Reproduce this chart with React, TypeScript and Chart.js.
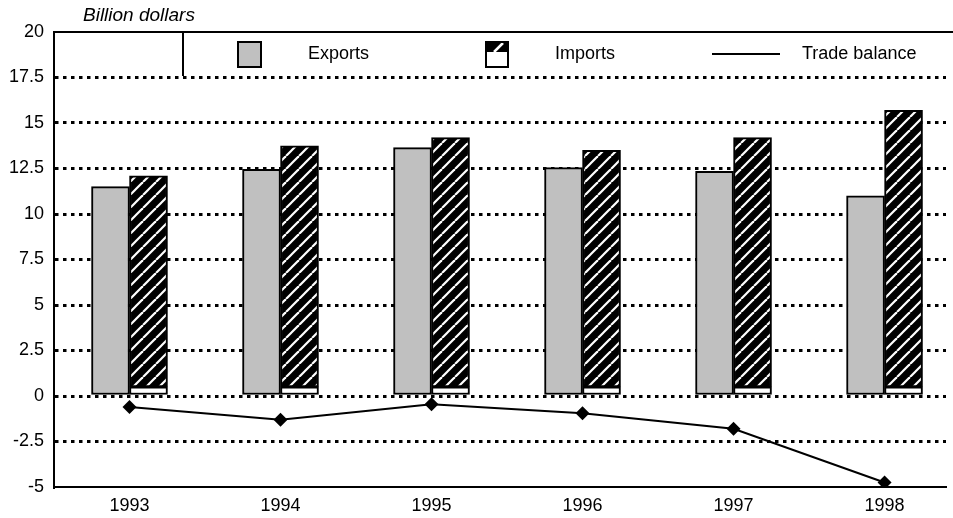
import React, { useEffect, useRef } from 'react';
import { Chart, registerables } from 'chart.js';

Chart.register(...registerables);

const YEARS = ['1993', '1994', '1995', '1996', '1997', '1998'];
const EXPORTS = [11.5, 12.45, 13.65, 12.55, 12.35, 11.0];
const IMPORTS = [12.1, 13.75, 14.2, 13.5, 14.2, 15.7];
const TRADE_BALANCE = [-0.6, -1.3, -0.45, -0.95, -1.8, -4.75];
const IMPORTS_BASE = 0.5;
const Y_MIN = -5;
const Y_MAX = 20;
const Y_STEP = 2.5;
const TITLE = 'Billion dollars';
const LEGEND_LABELS = ['Exports', 'Imports', 'Trade balance'];

const FONT = "'Liberation Sans', Arial, sans-serif";
const W = 953;
const H = 518;

function makeHatch(ctx: CanvasRenderingContext2D) {
  const s = 13;
  const c = document.createElement('canvas');
  c.width = s;
  c.height = s;
  const g = c.getContext('2d')!;
  g.fillStyle = '#000';
  g.fillRect(0, 0, s, s);
  g.strokeStyle = '#fff';
  g.lineWidth = 2.2;
  for (const k of [-s, 0, s]) {
    g.beginPath();
    g.moveTo(k, s);
    g.lineTo(k + s, 0);
    g.stroke();
  }
  return ctx.createPattern(c, 'repeat')!;
}

const decorPlugin = {
  id: 'decor',
  afterDraw(chart: any) {
    const ctx: CanvasRenderingContext2D = chart.ctx;
    const area = chart.chartArea;
    ctx.save();
    ctx.fillStyle = '#000';
    ctx.font = `italic 19px ${FONT}`;
    ctx.textAlign = 'left';
    ctx.textBaseline = 'alphabetic';
    ctx.fillText(TITLE, 83, 21);

    const bx = 183;
    const by = area.top;
    const bh = 44;
    ctx.fillStyle = '#fff';
    ctx.fillRect(bx, by, W - bx, bh);
    ctx.strokeStyle = '#000';
    ctx.lineWidth = 2;
    ctx.beginPath();
    ctx.moveTo(bx, by + bh);
    ctx.lineTo(bx, by);
    ctx.stroke();

    ctx.beginPath();
    ctx.moveTo(area.left - 1, area.top);
    ctx.lineTo(W, area.top);
    ctx.stroke();

    const cy = by + 22;
    ctx.font = `18px ${FONT}`;
    ctx.textBaseline = 'middle';

    ctx.fillStyle = '#c0c0c0';
    ctx.fillRect(238, cy - 12, 23, 25);
    ctx.strokeStyle = '#000';
    ctx.lineWidth = 2;
    ctx.strokeRect(238, cy - 12, 23, 25);
    ctx.fillStyle = '#000';
    ctx.fillText(LEGEND_LABELS[0], 308, cy);

    const ix = 486;
    const iy = cy - 12;
    ctx.fillStyle = '#fff';
    ctx.fillRect(ix, iy, 22, 25);
    ctx.fillStyle = '#000';
    ctx.fillRect(ix, iy, 22, 10);
    ctx.strokeStyle = '#fff';
    ctx.lineWidth = 2.5;
    ctx.beginPath();
    ctx.moveTo(ix + 8, iy + 10);
    ctx.lineTo(ix + 17, iy + 1);
    ctx.stroke();
    ctx.strokeStyle = '#000';
    ctx.lineWidth = 2;
    ctx.strokeRect(ix, iy, 22, 25);
    ctx.fillStyle = '#000';
    ctx.fillText(LEGEND_LABELS[1], 555, cy);

    ctx.beginPath();
    ctx.moveTo(712, cy);
    ctx.lineTo(780, cy);
    ctx.lineWidth = 2;
    ctx.strokeStyle = '#000';
    ctx.stroke();
    ctx.fillText(LEGEND_LABELS[2], 802, cy);
    ctx.restore();
  },
};

export default function App() {
  const ref = useRef<HTMLCanvasElement>(null);

  useEffect(() => {
    document.body.style.margin = '0';
    const canvas = ref.current!;
    const ctx = canvas.getContext('2d')!;
    const hatch = makeHatch(ctx);

    const chart = new Chart(ctx, {
      type: 'bar',
      data: {
        datasets: [
          {
            type: 'line',
            label: LEGEND_LABELS[2],
            data: TRADE_BALANCE.map((v, i) => ({ x: i, y: v })),
            borderColor: '#000',
            borderWidth: 2,
            backgroundColor: '#000',
            pointStyle: 'rectRot',
            pointRadius: 7,
            pointBackgroundColor: '#000',
            pointBorderColor: '#000',
            pointBorderWidth: 0,
            stack: 'tb',
            order: 0,
            tension: 0,
          } as any,
          {
            label: LEGEND_LABELS[0],
            data: EXPORTS.map((v, i) => ({ x: i, y: v })),
            backgroundColor: '#c0c0c0',
            borderColor: '#000',
            borderWidth: 2,
            borderSkipped: false,
            stack: 'exp',
            barThickness: 38,
            order: 1,
          },
          {
            label: 'imports-base',
            data: IMPORTS.map((_, i) => ({ x: i, y: IMPORTS_BASE })),
            backgroundColor: '#fff',
            borderColor: '#000',
            borderWidth: 2,
            borderSkipped: false,
            stack: 'imp',
            barThickness: 38,
            order: 2,
          },
          {
            label: LEGEND_LABELS[1],
            data: IMPORTS.map((v, i) => ({ x: i, y: v - IMPORTS_BASE })),
            backgroundColor: hatch,
            borderColor: '#000',
            borderWidth: 2,
            borderSkipped: false,
            stack: 'imp',
            barThickness: 38,
            order: 2,
          },
        ],
      },
      options: {
        animation: false,
        responsive: false,
        maintainAspectRatio: false,
        layout: { padding: { top: 32, right: 0, left: 0, bottom: 0 } },
        plugins: {
          legend: { display: false },
          tooltip: { enabled: false },
        },
        scales: {
          x: {
            type: 'linear',
            offset: false,
            min: -0.5,
            max: 5.407,
            afterBuildTicks: (s: any) => {
              s.ticks = YEARS.map((_, i) => ({ value: i }));
            },
            afterFit: (s: any) => {
              s.height = 31;
            },
            ticks: {
              callback: (v: any) => YEARS[v] ?? '',
              font: { family: FONT, size: 18 },
              color: '#000',
              padding: 8,
              maxRotation: 0,
              autoSkip: false,
            },
            grid: { display: false, drawTicks: false, offset: false },
            border: { display: true, color: '#000', width: 2 },
          },
          y: {
            min: Y_MIN,
            max: Y_MAX,
            stacked: true,
            afterFit: (s: any) => {
              s.width = 54;
            },
            ticks: {
              stepSize: Y_STEP,
              font: { family: FONT, size: 18 },
              color: '#000',
              padding: 10,
              callback: (v: any) => String(v),
            },
            grid: {
              color: (c: any) =>
                c.tick && (c.tick.value === Y_MAX || c.tick.value === Y_MIN) ? 'rgba(0,0,0,0)' : '#000',
              lineWidth: 3,
              drawTicks: false,
            },
            border: { display: true, color: '#000', width: 2, dash: [3.5, 4.5] },
          },
        },
      },
      plugins: [decorPlugin],
    });
    return () => chart.destroy();
  }, []);

  return <canvas ref={ref} width={W} height={H} style={{ display: 'block', width: W, height: H }} />;
}
